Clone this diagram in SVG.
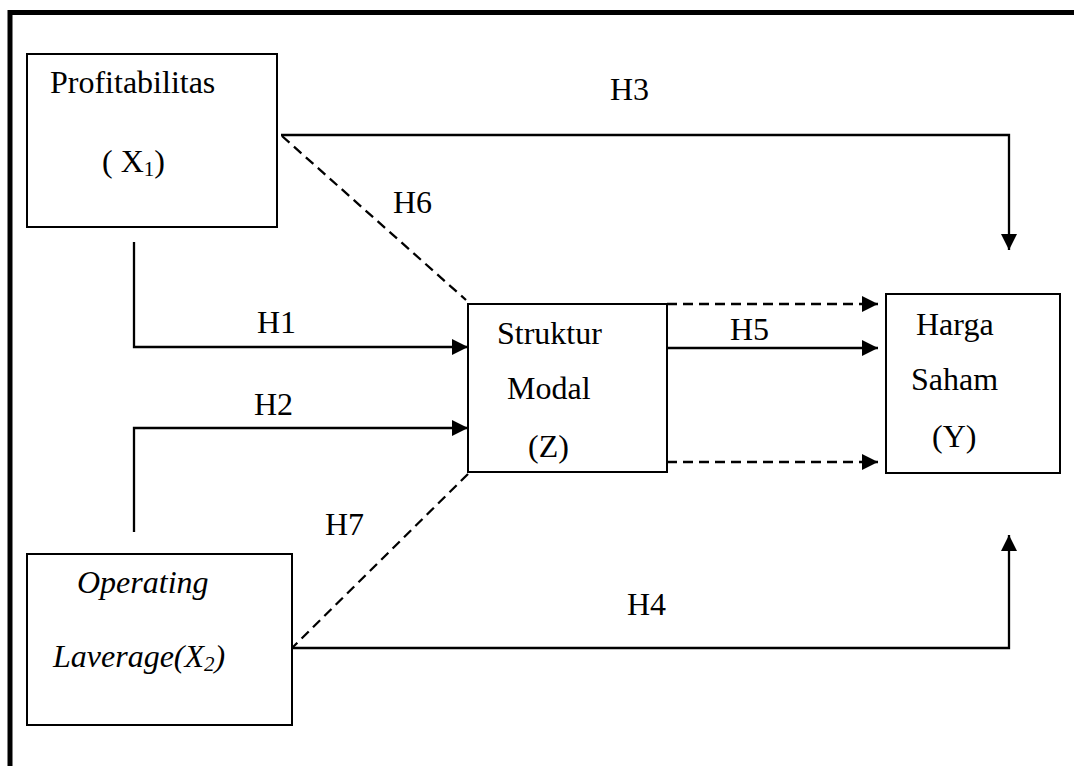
<svg xmlns="http://www.w3.org/2000/svg" width="1074" height="766" viewBox="0 0 1074 766">
<style>
.box{fill:#fff;stroke:#000;stroke-width:2}
.t{font-family:"Liberation Serif","Times New Roman",serif;font-size:32px;fill:#000}
.i{font-style:italic}
.ln{fill:none;stroke:#000;stroke-width:2.3}
.dash{stroke-dasharray:10 6}
.frame{fill:none;stroke:#000;stroke-width:5}
</style>
<defs>
<marker id="arr" viewBox="0 0 16 16" refX="16" refY="8" markerWidth="16" markerHeight="16" markerUnits="userSpaceOnUse" orient="auto">
<path d="M0,0 L16,8 L0,16 Z" fill="#000"/>
</marker>
</defs>
<rect width="1074" height="766" fill="#fff"/>
<path class="frame" d="M10,766 L10,12.5 L1074,12.5"/>
<g id="connectors">
<path class="ln" d="M281,135 L1009,135 L1009,250" marker-end="url(#arr)"/>
<path class="ln" d="M134,242 L134,347 L468,347" marker-end="url(#arr)"/>
<path class="ln" d="M134,532 L134,428 L468,428" marker-end="url(#arr)"/>
<path class="ln" d="M292,648 L1009,648 L1009,535" marker-end="url(#arr)"/>
<path class="ln dash" d="M282,136 L466,300"/>
<path class="ln dash" d="M468,474 L292,648"/>
<path class="ln dash" d="M667,304 L878,304" marker-end="url(#arr)"/>
<path class="ln" d="M667,348 L878,348" marker-end="url(#arr)"/>
<path class="ln dash" d="M667,462 L878,462" marker-end="url(#arr)"/>
<text class="t" x="610" y="100">H3</text>
<text class="t" x="393" y="213">H6</text>
<text class="t" x="257" y="333">H1</text>
<text class="t" x="254" y="415">H2</text>
<text class="t" x="325" y="535">H7</text>
<text class="t" x="627" y="615">H4</text>
<text class="t" x="730" y="340">H5</text>
</g>
<g id="node-x1">
<rect class="box" x="27" y="54" width="250" height="173"/>
<text class="t" x="50" y="93">Profitabilitas</text>
<text class="t" x="102" y="172">( X<tspan font-size="21" dy="4">1</tspan><tspan dy="-4">)</tspan></text>
</g>
<g id="node-x2">
<rect class="box" x="27" y="554" width="265" height="171"/>
<text class="t i" x="77" y="593">Operating</text>
<text class="t i" x="53" y="667">Laverage(X<tspan font-size="21" dy="4">2</tspan><tspan dy="-4">)</tspan></text>
</g>
<g id="node-z">
<rect class="box" x="468" y="304" width="199" height="168"/>
<text class="t" x="497" y="344">Struktur</text>
<text class="t" x="507" y="399">Modal</text>
<text class="t" x="528" y="457">(Z)</text>
</g>
<g id="node-y">
<rect class="box" x="886" y="294" width="174" height="179"/>
<text class="t" x="916" y="335">Harga</text>
<text class="t" x="911" y="390">Saham</text>
<text class="t" x="932" y="447">(Y)</text>
</g>
</svg>
